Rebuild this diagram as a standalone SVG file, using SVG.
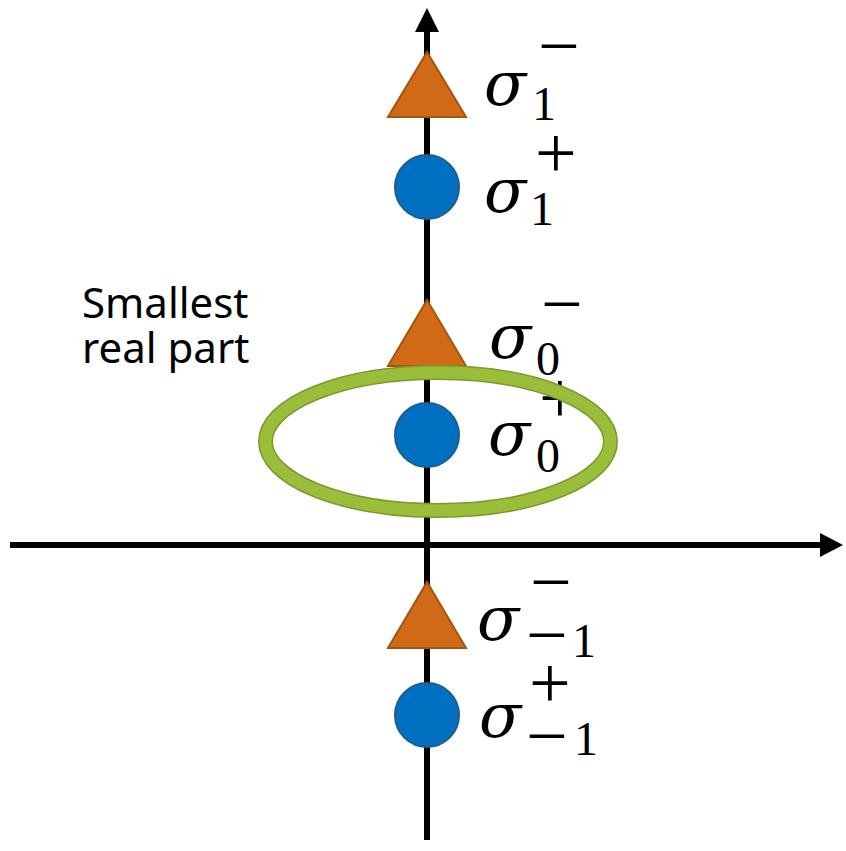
<svg xmlns="http://www.w3.org/2000/svg" width="846" height="851" viewBox="0 0 846 851">
<style>
.axis{stroke:#000;stroke-width:6;fill:none}
.tri{fill:#D06A16;stroke:#A4550F;stroke-width:2}
.dot{fill:#0070C0;stroke:#1C5E8E;stroke-width:2}
.sig{font-family:"DejaVu Serif",serif;font-style:italic;font-size:62px}
.sgn{font-family:"Liberation Serif",serif;font-style:normal;font-size:74px}
.sub{font-family:"Liberation Serif",serif;font-style:normal;font-size:48px}
.lbl{font-family:"Noto Sans","Open Sans",sans-serif;font-size:42px;fill:#000}
text{fill:#000}
</style>
<rect width="846" height="851" fill="#fff"/>
<g id="connectors">
<line class="axis" x1="427" y1="840" x2="427" y2="30"/>
<polygon points="415,32 427,8 439,32" fill="#000"/>
<line class="axis" x1="10" y1="545" x2="822" y2="545"/>
<polygon points="820,533 843,545 820,557" fill="#000"/>
</g>
<g id="sigma1m">
<polygon class="tri" points="427,52 388,117 466,117"/>
<text><tspan class="sig" x="484" y="105">σ</tspan><tspan class="sgn" x="538" y="71">−</tspan><tspan class="sub" x="532" y="120">1</tspan></text>
</g>
<g id="sigma1p">
<circle class="dot" cx="427" cy="187" r="32"/>
<text><tspan class="sig" x="484" y="212">σ</tspan><tspan class="sgn" x="535" y="178">+</tspan><tspan class="sub" x="530" y="225">1</tspan></text>
</g>
<g id="sigma0m">
<polygon class="tri" points="427,300 388,366 466,366"/>
<text><tspan class="sig" x="489" y="358">σ</tspan><tspan class="sgn" x="541" y="329">−</tspan><tspan class="sub" x="536" y="375">0</tspan></text>
</g>
<g id="sigma0p">
<circle class="dot" cx="427" cy="435" r="32"/>
<text><tspan class="sig" x="488" y="455">σ</tspan><tspan class="sgn" x="539" y="423">+</tspan><tspan class="sub" x="536" y="472">0</tspan></text>
</g>
<g id="sigmam1m">
<polygon class="tri" points="427,582 388,648 466,648"/>
<text><tspan class="sig" x="477" y="640">σ</tspan><tspan class="sgn" x="530" y="607">−</tspan><tspan class="sgn" x="526" y="660">−</tspan><tspan class="sub" x="572" y="657">1</tspan></text>
</g>
<g id="sigmam1p">
<circle class="dot" cx="427" cy="715" r="32"/>
<text><tspan class="sig" x="479" y="737">σ</tspan><tspan class="sgn" x="529" y="708">+</tspan><tspan class="sgn" x="526" y="761">−</tspan><tspan class="sub" x="574" y="755">1</tspan></text>
</g>
<g id="label">
<text class="lbl"><tspan x="82" y="318">Smallest</tspan><tspan x="82" y="363">real part</tspan></text>
</g>
<g id="highlight">
<ellipse cx="438" cy="441.5" rx="172.5" ry="69" fill="none" stroke="#7A9A2E" stroke-width="15"/>
<ellipse cx="438" cy="441.5" rx="172.5" ry="69" fill="none" stroke="#9BBE3A" stroke-width="12"/>
</g>
</svg>
